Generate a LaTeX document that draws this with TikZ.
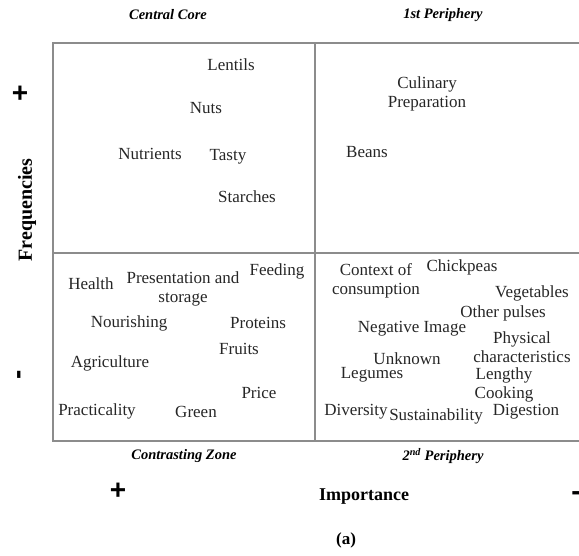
\documentclass[tikz,border=0pt]{standalone}
\usepackage{fontspec}
\setmainfont{Liberation Serif}
\setsansfont{Liberation Sans}
\usetikzlibrary{positioning}

\begin{document}
\begin{tikzpicture}[x=1pt,y=-1pt]

\useasboundingbox (0,0) rectangle (579,556);

\tikzstyle{quadline} = [draw=gray!90, line width=1.3pt]
\tikzstyle{word} = [inner sep=0pt, align=center, font=\fontsize{17}{19.5}\selectfont, text=black!85]
\tikzstyle{zone} = [inner sep=0pt, font=\fontsize{14.5}{16}\selectfont\bfseries\itshape]
\tikzstyle{axis} = [inner sep=0pt, font=\fontsize{18}{20}\selectfont\bfseries]
\tikzstyle{sign} = [inner sep=0pt, font=\fontsize{28}{30}\selectfont\sffamily\bfseries]

% quadrants
\coordinate (tl) at (53,43);
\coordinate (tr) at (580,43);
\coordinate (bl) at (53,441);
\coordinate (br) at (580,441);
\draw [quadline] (tr) -- (tl) -- (bl) -- (br);
\draw [quadline] (315,43) -- (315,441);
\draw [quadline] (53,253) -- (580,253);

% zone titles
\node (core) [zone] at (168,15) {Central Core};
\node (per1) [zone] at (443,15) {1st Periphery};
\node (contr) [zone] at (184,456) {Contrasting Zone};
\node (per2) [zone] at (443,456) {2\textsuperscript{nd} Periphery};

% axes
\node (freq) [axis, rotate=90, font=\fontsize{20}{22}\selectfont\bfseries] at (27,210) {Frequencies};
\node (fplus) [sign] at (20,94) {+};
\node (fminus) [sign, rotate=90] at (22,375) {-};
\node (imp) [axis] at (364,497) {Importance};
\node (iplus) [sign] at (118,491) {+};
\node (iminus) [sign] at (576,496) {-};
\node (cap) [axis, font=\fontsize{17}{20}\selectfont\bfseries] at (346,540) {(a)};

% central core
\node (lentils) [word] at (231,65) {Lentils};
\node (nuts) [word] at (206,108) {Nuts};
\node (nutrients) [word] at (150,154) {Nutrients};
\node (tasty) [word] at (228,157) {Tasty};
\node (starches) [word] at (247,197) {Starches};

% 1st periphery
\node (culinary) [word] at (427,94) {Culinary\\Preparation};
\node (beans) [word] at (367,152) {Beans};

% contrasting zone
\node (health) [word] at (91,284) {Health};
\node (present) [word] at (183,289) {Presentation and\\storage};
\node (feeding) [word] at (277,271) {Feeding};
\node (nourish) [word] at (129,323) {Nourishing};
\node (proteins) [word] at (258,323) {Proteins};
\node (fruits) [word] at (239,349) {Fruits};
\node (agri) [word] at (110,363) {Agriculture};
\node (price) [word] at (259,393) {Price};
\node (pract) [word] at (97,411) {Practicality};
\node (green) [word] at (196,412) {Green};

% 2nd periphery
\node (context) [word] at (376,281) {Context of\\consumption};
\node (chick) [word] at (462,267) {Chickpeas};
\node (veg) [word] at (532,293) {Vegetables};
\node (pulses) [word] at (503,313) {Other pulses};
\node (negimg) [word] at (412,329) {Negative Image};
\node (physical) [word] at (522,347) {Physical\\characteristics};
\node (unknown) [word] at (407,359) {Unknown};
\node (legumes) [word] at (372,375) {Legumes};
\node (lengthy) [word] at (504,385) {Lengthy\\Cooking};
\node (divers) [word] at (356,412) {Diversity};
\node (sustain) [word] at (436,416) {Sustainability};
\node (digest) [word] at (526,412) {Digestion};

\end{tikzpicture}
\end{document}
